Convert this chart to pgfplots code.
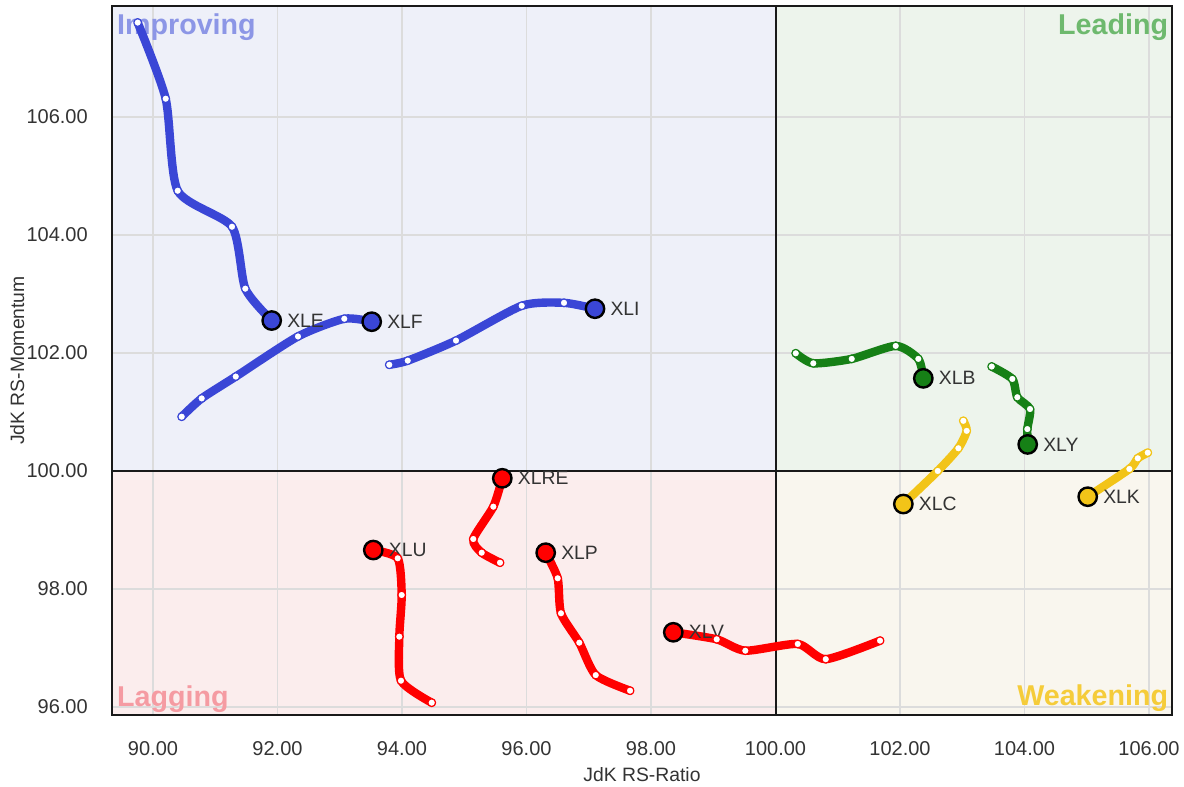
\documentclass[border=0pt]{standalone}
\usepackage{fontspec}
\setmainfont{Liberation Sans}
\usepackage{pgfplots}
\pgfplotsset{compat=1.18}
\definecolor{cblue}{RGB}{58,70,214}
\definecolor{cgreen}{RGB}{22,128,22}
\definecolor{cyellow}{RGB}{242,196,24}
\definecolor{cred}{RGB}{255,0,0}
\definecolor{bgI}{RGB}{238,240,249}
\definecolor{bgL}{RGB}{237,244,236}
\definecolor{bgG}{RGB}{251,237,237}
\definecolor{bgW}{RGB}{249,246,238}
\definecolor{tI}{RGB}{140,150,230}
\definecolor{tL}{RGB}{110,185,110}
\definecolor{tG}{RGB}{245,155,162}
\definecolor{tW}{RGB}{245,204,58}
\definecolor{gridc}{RGB}{220,220,220}
\definecolor{txt}{RGB}{51,51,51}
\pgfplotsset{
  tail/.style={#1, line width=6.3pt, smooth, tension=0.4, line cap=round, line join=round,
    mark=*, mark size=2.9pt, mark options={solid, fill=white, draw=#1, line width=0.9pt}},
  head/.style={only marks, mark=*, mark size=6.9pt, mark options={fill=#1, draw=black, line width=1.8pt}},
}
\tikzset{lab/.style={anchor=west, inner sep=0pt, xshift=11.5pt, text=txt, font=\fontsize{14.5}{16}\selectfont}}
\begin{document}
\begin{tikzpicture}
\begin{axis}[
  set layers,
  scale only axis, width=795pt, height=531.75pt,
  xmin=89.3414, xmax=106.369, ymin=95.864, ymax=107.881,
  xtick={90,92,...,106}, ytick={96,98,...,106},
  grid=major, major grid style={gridc, line width=1pt},
  major tick length=0pt,
  axis line style={black!90, line width=1.5pt},
  /pgf/number format/assume math mode=true,
  ticklabel style={font=\fontsize{15}{18}\selectfont, text=txt, /pgf/number format/.cd, fixed, fixed zerofill, precision=2, /tikz/.cd},
  xticklabel style={anchor=north, inner sep=0pt, yshift=-20pt},
  yticklabel style={anchor=east, inner sep=0pt, xshift=-18pt},
  xlabel={JdK RS-Ratio}, ylabel={JdK RS-Momentum},
  label style={font=\fontsize{14.5}{17}\selectfont, text=txt},
  xlabel style={at={(axis description cs:0.5,0)}, anchor=center, yshift=-45pt},
  ylabel style={at={(axis description cs:0,0.5)}, anchor=center, yshift=71pt},
  clip=true,
]
\pgfonlayer{axis background}
\fill[bgI] (axis cs:89.3414,100) rectangle (axis cs:100,107.881);
\fill[bgL] (axis cs:100,100) rectangle (axis cs:106.369,107.881);
\fill[bgG] (axis cs:89.3414,95.864) rectangle (axis cs:100,100);
\fill[bgW] (axis cs:100,95.864) rectangle (axis cs:106.369,100);
\endpgfonlayer
\draw[black!90, line width=1.5pt] (axis cs:100,95.864) -- (axis cs:100,107.881);
\draw[black!90, line width=1.5pt] (axis cs:89.3414,100) -- (axis cs:106.369,100);

\node[anchor=base west, inner sep=0pt, text=tI, font=\bfseries\fontsize{21.5}{24}\selectfont] at (axis cs:89.42,107.40) {Improving};
\node[anchor=base east, inner sep=0pt, text=tL, font=\bfseries\fontsize{21.5}{24}\selectfont] at (axis cs:106.31,107.40) {Leading};
\node[anchor=base west, inner sep=0pt, text=tG, font=\bfseries\fontsize{21.5}{24}\selectfont] at (axis cs:89.42,96.0) {Lagging};
\node[anchor=base east, inner sep=0pt, text=tW, font=\bfseries\fontsize{21.5}{24}\selectfont] at (axis cs:106.31,96.03) {Weakening};

% Blue: XLE, XLF, XLI
\addplot[tail=cblue] coordinates {(89.754,107.60) (90.204,106.31) (90.397,104.75) (91.269,104.14) (91.483,103.09) (91.907,102.55)};
\addplot[tail=cblue] coordinates {(90.461,100.92) (90.782,101.23) (91.329,101.60) (92.329,102.28) (93.073,102.58) (93.513,102.53)};
\addplot[tail=cblue] coordinates {(93.796,101.80) (94.092,101.87) (94.867,102.21) (95.923,102.80) (96.602,102.85) (97.100,102.75)};
% Green: XLB, XLY
\addplot[tail=cgreen] coordinates {(100.325,101.995) (100.607,101.825) (101.224,101.90) (101.931,102.12) (102.294,101.90) (102.374,101.57)};
\addplot[tail=cgreen] coordinates {(103.473,101.77) (103.804,101.56) (103.884,101.25) (104.088,101.05) (104.045,100.71) (104.051,100.45)};
% Yellow: XLC, XLK
\addplot[tail=cyellow] coordinates {(103.017,100.85) (103.071,100.68) (102.937,100.385) (102.606,100.0) (102.053,99.44)};
\addplot[tail=cyellow] coordinates {(105.979,100.31) (105.819,100.215) (105.684,100.034) (105.015,99.564)};
% Red: XLRE, XLU, XLP, XLV
\addplot[tail=cred] coordinates {(95.574,98.446) (95.280,98.615) (95.145,98.847) (95.467,99.395) (95.611,99.876)};
\addplot[tail=cred] coordinates {(94.477,96.073) (93.984,96.446) (93.957,97.192) (93.995,97.898) (93.931,98.52) (93.539,98.66)};
\addplot[tail=cred] coordinates {(97.663,96.276) (97.112,96.54) (96.848,97.09) (96.554,97.588) (96.501,98.181) (96.308,98.615)};
\addplot[tail=cred] coordinates {(101.679,97.124) (100.807,96.81) (100.357,97.068) (99.515,96.954) (99.055,97.147) (98.358,97.266)};

% Heads
\addplot[head=cblue] coordinates {(91.907,102.55) (93.513,102.53) (97.100,102.75)};
\addplot[head=cgreen] coordinates {(102.374,101.57) (104.051,100.45)};
\addplot[head=cyellow] coordinates {(102.053,99.44) (105.015,99.564)};
\addplot[head=cred] coordinates {(95.611,99.876) (93.539,98.66) (96.308,98.615) (98.358,97.266)};

\node[lab] at (axis cs:91.907,102.55) {XLE};
\node[lab] at (axis cs:93.513,102.53) {XLF};
\node[lab] at (axis cs:97.100,102.75) {XLI};
\node[lab] at (axis cs:102.374,101.57) {XLB};
\node[lab] at (axis cs:104.051,100.45) {XLY};
\node[lab] at (axis cs:102.053,99.44) {XLC};
\node[lab] at (axis cs:105.015,99.564) {XLK};
\node[lab] at (axis cs:95.611,99.876) {XLRE};
\node[lab] at (axis cs:93.539,98.66) {XLU};
\node[lab] at (axis cs:96.308,98.615) {XLP};
\node[lab] at (axis cs:98.358,97.266) {XLV};
\end{axis}
\pgfresetboundingbox
\path[use as bounding box] (-84pt,-53.25pt) rectangle (804pt,536.25pt);
\end{tikzpicture}
\end{document}
